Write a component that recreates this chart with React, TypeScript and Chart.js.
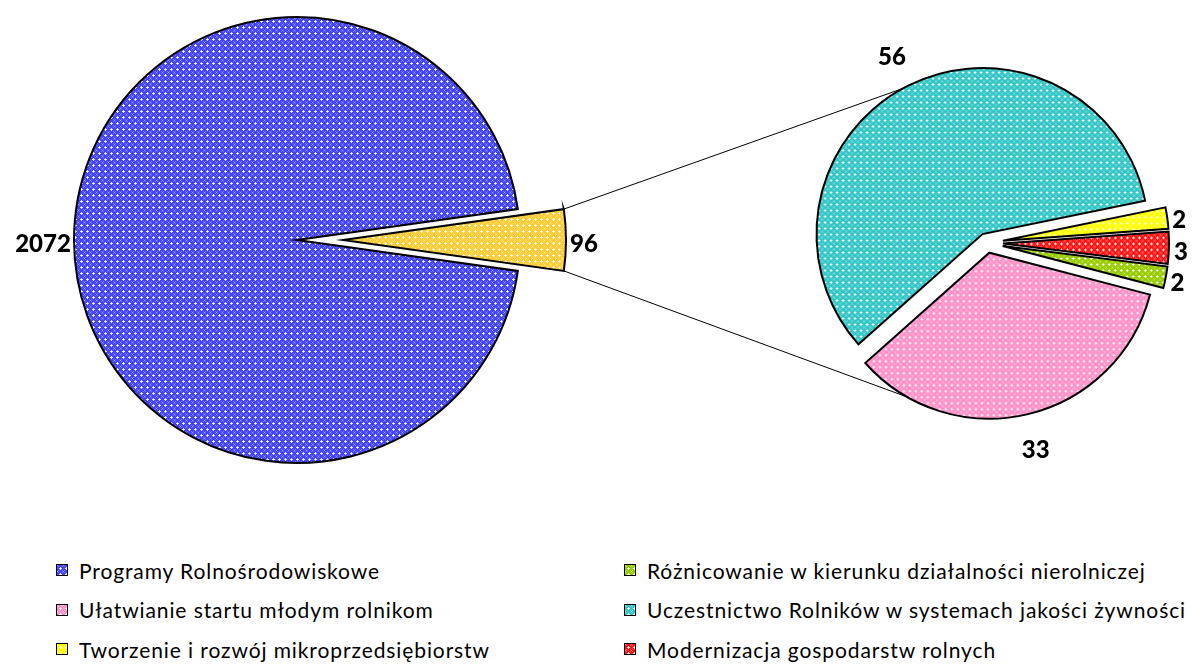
import React, { useEffect, useMemo, useRef } from 'react';
import { Chart, registerables } from 'chart.js';

Chart.register(...registerables);

// ---------- data ----------
const mainLabels = ['Programy Rolnośrodowiskowe', 'Pozostałe działania'];
const mainValues = [2072, 96];

const subLabels = [
  'Uczestnictwo Rolników w systemach jakości żywności',
  'Tworzenie i rozwój mikroprzedsiębiorstw',
  'Modernizacja gospodarstw rolnych',
  'Różnicowanie w kierunku działalności nierolniczej',
  'Ułatwianie startu młodym rolnikom',
];
const subValues = [56, 2, 3, 2, 33];

const legendLeft = [
  'Programy Rolnośrodowiskowe',
  'Ułatwianie startu młodym rolnikom',
  'Tworzenie i rozwój mikroprzedsiębiorstw',
];
const legendRight = [
  'Różnicowanie w kierunku działalności nierolniczej',
  'Uczestnictwo Rolników w systemach jakości żywności',
  'Modernizacja gospodarstw rolnych',
];

// ---------- styles ----------
const COLOR_BY_LABEL: Record<string, string> = {
  'Programy Rolnośrodowiskowe': '#4444ff',
  'Pozostałe działania': '#ffcc33',
  'Uczestnictwo Rolników w systemach jakości żywności': '#33c6c6',
  'Tworzenie i rozwój mikroprzedsiębiorstw': '#ffff00',
  'Modernizacja gospodarstw rolnych': '#ff1414',
  'Różnicowanie w kierunku działalności nierolniczej': '#99cc00',
  'Ułatwianie startu młodym rolnikom': '#ff90c8',
};

const FONT = 'Lato, "Open Sans", sans-serif';
const LEFT_W = 640, LEFT_H = 480, LEFT_PAD_R = 46;
const RIGHT_X = 760, RIGHT_W = 432, RIGHT_H = 486, RIGHT_PAD_L = 22;
const MAIN_R = 223;
const MAIN_EXPLODE = [0, 46];
const SUB_R = 166;
const SUB_EXPLODE = [10, 16, 16, 16, 10];
const SUB_SHIFT_DEG = 1.5;
const TOP_LINE_DEG = 241.3;
const BOTTOM_LINE_DEG = 119.6;

function makeTile(color: string): HTMLCanvasElement {
  const c = document.createElement('canvas');
  c.width = 6;
  c.height = 6;
  const g = c.getContext('2d')!;
  g.fillStyle = color;
  g.fillRect(0, 0, 6, 6);
  const px = (x: number, y: number, a: number) => {
    g.fillStyle = `rgba(255,255,255,${a})`;
    g.fillRect(x, y, 1, 1);
  };
  // plus at centre
  px(3, 3, 1);
  px(2, 3, 0.85);
  px(4, 3, 0.85);
  px(3, 2, 0.85);
  px(3, 4, 0.85);
  // lighter dots between crosses
  px(0, 0, 0.55);
  px(1, 1, 0.25);
  px(5, 5, 0.25);
  px(1, 5, 0.25);
  px(5, 1, 0.25);
  return c;
}

// draws every arc shifted outward along its own mid-angle (exploded slices)
const explode = {
  id: 'explode',
  beforeDatasetDraw(chart: any, args: any, opts: any) {
    const ctx = chart.ctx;
    const meta = args.meta;
    meta.data.forEach((arc: any, i: number) => {
      const p = arc.getProps(['startAngle', 'endAngle'], true);
      const mid = (p.startAngle + p.endAngle) / 2;
      const d = opts.dist[i] || 0;
      ctx.save();
      ctx.translate(Math.cos(mid) * d, Math.sin(mid) * d);
      arc.draw(ctx);
      ctx.restore();
    });
    return false;
  },
};

const pieLabels = {
  id: 'pieLabels',
  afterDatasetsDraw(chart: any, _args: any, opts: any) {
    const ctx = chart.ctx;
    const meta = chart.getDatasetMeta(0);
    const values = chart.data.datasets[0].data;
    const dist = chart.options.plugins.explode.dist;
    ctx.save();
    ctx.font = `900 24px ${FONT}`;
    ctx.fillStyle = '#000';
    ctx.textAlign = 'center';
    ctx.textBaseline = 'middle';
    meta.data.forEach((arc: any, i: number) => {
      const p = arc.getProps(['x', 'y', 'startAngle', 'endAngle', 'outerRadius'], true);
      const mid = (p.startAngle + p.endAngle) / 2;
      const r = (dist[i] || 0) + p.outerRadius + opts.pads[i];
      ctx.fillText(String(values[i]), p.x + Math.cos(mid) * r, p.y + Math.sin(mid) * r + 4);
    });
    ctx.restore();
  },
};

export default function App() {
  const leftRef = useRef<HTMLCanvasElement>(null);
  const rightRef = useRef<HTMLCanvasElement>(null);
  const lineRef = useRef<HTMLCanvasElement>(null);

  const tileUrls = useMemo(() => {
    const m: Record<string, string> = {};
    Object.keys(COLOR_BY_LABEL).forEach((k) => {
      m[k] = makeTile(COLOR_BY_LABEL[k]).toDataURL();
    });
    return m;
  }, []);

  useEffect(() => {
    const lc = leftRef.current!;
    const rc = rightRef.current!;
    const pat = (ctx: CanvasRenderingContext2D, label: string) =>
      ctx.createPattern(makeTile(COLOR_BY_LABEL[label]), 'repeat')!;

    const mainTotal = mainValues.reduce((a, b) => a + b, 0);
    const mainRotation = 90 + (mainValues[1] / mainTotal) * 180;

    const left = new Chart(lc, {
      type: 'pie',
      data: {
        labels: mainLabels,
        datasets: [
          {
            data: mainValues,
            backgroundColor: mainLabels.map((l) => pat(lc.getContext('2d')!, l)),
            borderColor: '#000',
            borderWidth: 2,
            borderJoinStyle: 'miter',
          } as any,
        ],
      },
      options: {
        responsive: false,
        animation: false,
        events: [],
        radius: MAIN_R,
        rotation: mainRotation,
        layout: { padding: { right: LEFT_PAD_R } },
        plugins: {
          legend: { display: false },
          tooltip: { enabled: false },
          explode: { dist: MAIN_EXPLODE },
          pieLabels: { pads: [31, 18] },
        } as any,
      } as any,
      plugins: [explode, pieLabels],
    });

    const subTotal = subValues.reduce((a, b) => a + b, 0);
    const smallSum = subValues[1] + subValues[2] + subValues[3];
    const tealStart = -(smallSum / subTotal) * 180 - (subValues[0] / subTotal) * 360 + SUB_SHIFT_DEG;
    const subRotation = tealStart + 90;

    const right = new Chart(rc, {
      type: 'pie',
      data: {
        labels: subLabels,
        datasets: [
          {
            data: subValues,
            backgroundColor: subLabels.map((l) => pat(rc.getContext('2d')!, l)),
            borderColor: '#000',
            borderWidth: 2,
            borderJoinStyle: 'miter',
          } as any,
        ],
      },
      options: {
        responsive: false,
        animation: false,
        events: [],
        radius: SUB_R,
        rotation: subRotation,
        layout: { padding: { left: RIGHT_PAD_L } },
        plugins: {
          legend: { display: false },
          tooltip: { enabled: false },
          explode: { dist: SUB_EXPLODE },
          pieLabels: { pads: [36, 12, 12, 12, 33] },
        } as any,
      } as any,
      plugins: [explode, pieLabels],
    });

    // connector lines between the two pies
    const g = lineRef.current!.getContext('2d')!;
    g.clearRect(0, 0, 1192, 500);
    const centerOf = (arc: any, d: number, dx: number) => {
      const p = arc.getProps(['x', 'y', 'startAngle', 'endAngle', 'outerRadius'], true);
      const mid = (p.startAngle + p.endAngle) / 2;
      return { cx: p.x + Math.cos(mid) * d + dx, cy: p.y + Math.sin(mid) * d, ...p };
    };
    const gold = centerOf(left.getDatasetMeta(0).data[1], MAIN_EXPLODE[1], 0);
    const teal = centerOf(right.getDatasetMeta(0).data[0], SUB_EXPLODE[0], RIGHT_X);
    const pink = centerOf(right.getDatasetMeta(0).data[4], SUB_EXPLODE[4], RIGHT_X);
    const a1 = [gold.cx + Math.cos(gold.startAngle) * gold.outerRadius, gold.cy + Math.sin(gold.startAngle) * gold.outerRadius];
    const a2 = [gold.cx + Math.cos(gold.endAngle) * gold.outerRadius, gold.cy + Math.sin(gold.endAngle) * gold.outerRadius];
    const tA = (TOP_LINE_DEG * Math.PI) / 180;
    const bA = (BOTTOM_LINE_DEG * Math.PI) / 180;
    const b1 = [teal.cx + Math.cos(tA) * teal.outerRadius, teal.cy + Math.sin(tA) * teal.outerRadius];
    const b2 = [pink.cx + Math.cos(bA) * pink.outerRadius, pink.cy + Math.sin(bA) * pink.outerRadius];
    g.strokeStyle = '#000';
    g.lineWidth = 1;
    g.beginPath();
    g.moveTo(a1[0], a1[1]);
    g.lineTo(b1[0], b1[1]);
    g.moveTo(a2[0], a2[1]);
    g.lineTo(b2[0], b2[1]);
    g.stroke();

    return () => {
      left.destroy();
      right.destroy();
    };
  }, []);

  const legendItem = (label: string, x: number, y: number) => (
    <div
      key={label}
      style={{
        position: 'absolute',
        left: x,
        top: y,
        height: 24,
        display: 'flex',
        alignItems: 'center',
        whiteSpace: 'nowrap',
        fontFamily: FONT,
        fontSize: 21,
        letterSpacing: '0.9px',
        color: '#000',
      }}
    >
      <span
        style={{
          display: 'inline-block',
          width: 10,
          height: 10,
          border: '1.5px solid #000',
          backgroundImage: `url(${tileUrls[label]})`,
          marginRight: 11,
        }}
      />
      <span>{label}</span>
    </div>
  );

  return (
    <div style={{ position: 'absolute', left: 0, top: 0, width: 1192, height: 666, background: '#fff', overflow: 'hidden' }}>
      <canvas ref={lineRef} width={1192} height={500} style={{ position: 'absolute', left: 0, top: 0 }} />
      <canvas ref={leftRef} width={LEFT_W} height={LEFT_H} style={{ position: 'absolute', left: 0, top: 0 }} />
      <canvas ref={rightRef} width={RIGHT_W} height={RIGHT_H} style={{ position: 'absolute', left: RIGHT_X, top: 0 }} />
      {legendLeft.map((l, i) => legendItem(l, 56, 558 + i * 39.5))}
      {legendRight.map((l, i) => legendItem(l, 624, 558 + i * 39.5))}
    </div>
  );
}
